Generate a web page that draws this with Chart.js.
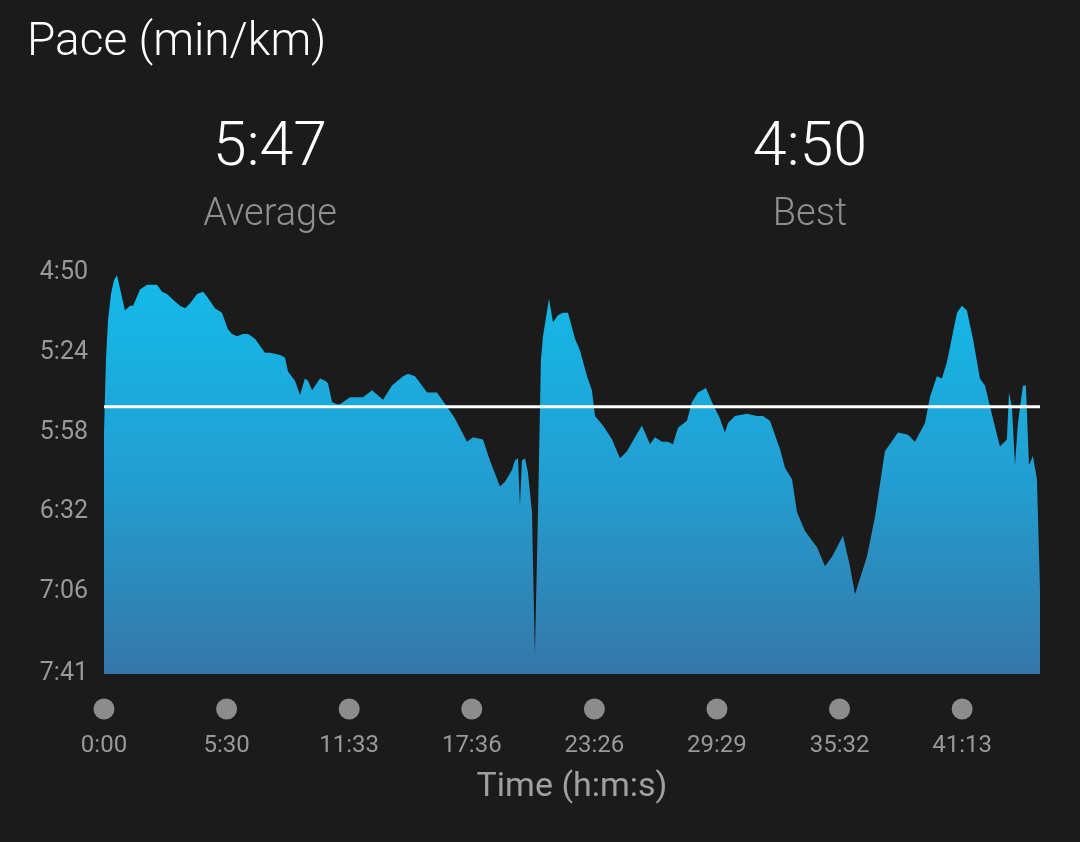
<!DOCTYPE html>
<html>
<head>
<meta charset="utf-8">
<title>Pace (min/km)</title>
<script src="https://cdn.jsdelivr.net/npm/chart.js@4.4.1/dist/chart.umd.min.js"></script>
<style>
  html, body { margin: 0; padding: 0; background: #1b1b1b; }
  body { width: 1080px; height: 842px; position: relative; overflow: hidden; font-family: Roboto, 'Noto Sans', sans-serif; }
  #title { position: absolute; left: 27px; top: 12px; font-size: 46px; color: #ffffff; font-weight: 300; }
  .stat { position: absolute; width: 300px; text-align: center; }
  .stat .val { font-size: 61px; color: #ffffff; font-weight: 300; line-height: 1; }
  .stat .lbl { font-size: 38px; color: #8f8f8f; font-weight: 300; margin-top: 18px; line-height: 1; }
  #chart-wrap { position: absolute; left: 0; top: 0; width: 1080px; height: 842px; }
</style>
</head>
<body>
<div id="chart-wrap"><canvas id="paceChart" width="1080" height="842"></canvas></div>
<div id="title">Pace (min/km)</div>
<div class="stat" style="left:120px; top:114px;"><div class="val" id="avg-val"></div><div class="lbl">Average</div></div>
<div class="stat" style="left:660px; top:114px;"><div class="val" id="best-val"></div><div class="lbl">Best</div></div>

<script>
// Pace chart, x = distance (km), y = pace in seconds per km (faster at the top)

const distKm = [
  0.00, 0.016, 0.033, 0.057, 0.082, 0.106, 0.171, 0.212, 0.237, 0.294,
  0.351, 0.432, 0.473, 0.514, 0.555, 0.620, 0.661, 0.701, 0.759, 0.808,
  0.840, 0.905, 0.962, 1.011, 1.044, 1.085, 1.134, 1.175, 1.232, 1.313,
  1.354, 1.436, 1.476, 1.501, 1.558, 1.599, 1.639, 1.664, 1.697, 1.762,
  1.803, 1.827, 1.860, 1.900, 1.925, 2.007, 2.113, 2.186, 2.276, 2.349,
  2.439, 2.480, 2.537, 2.635, 2.716, 2.798, 2.863, 2.961, 3.010, 3.091,
  3.148, 3.230, 3.271, 3.328, 3.352, 3.377, 3.393, 3.409, 3.434, 3.458,
  3.491, 3.515, 3.540, 3.564, 3.581, 3.630, 3.662, 3.703, 3.744, 3.785,
  3.842, 3.883, 3.940, 3.980, 4.005, 4.070, 4.144, 4.209, 4.266, 4.331,
  4.388, 4.454, 4.494, 4.551, 4.600, 4.641, 4.682, 4.755, 4.796, 4.845,
  4.910, 4.959, 5.024, 5.065, 5.090, 5.147, 5.245, 5.326, 5.375, 5.432,
  5.514, 5.555, 5.612, 5.653, 5.718, 5.816, 5.881, 5.938, 6.028, 6.085,
  6.126, 6.223, 6.289, 6.370, 6.476, 6.558, 6.615, 6.697, 6.737, 6.794,
  6.835, 6.876, 6.958, 6.998, 7.039, 7.088, 7.145, 7.186, 7.251, 7.308,
  7.365, 7.382, 7.406, 7.431, 7.455, 7.496, 7.520, 7.545, 7.577, 7.610,
  7.635
];
const paceSec = [
  358, 327, 310, 299, 293, 291, 306, 304, 304, 297,
  295, 295, 298, 299, 301, 304, 305, 303, 299, 298,
  300, 305, 307, 314, 316, 317, 316, 316, 318, 324,
  324, 325, 326, 332, 336, 342, 335, 336, 340, 335,
  336, 337, 345, 346, 346, 343, 343, 340, 344, 338,
  334, 333, 334, 341, 341, 347, 352, 362, 360, 361,
  370, 381, 379, 374, 370, 369, 389, 370, 369, 375,
  392, 453, 392, 327, 317, 301, 311, 308, 307, 307,
  318, 323, 334, 340, 351, 355, 361, 369, 366, 360,
  355, 363, 360, 362, 362, 363, 356, 353, 345, 341,
  339, 345, 352, 358, 354, 351, 350, 351, 351, 353,
  365, 373, 378, 392, 400, 407, 415, 411, 402, 415,
  427, 411, 394, 366, 358, 359, 362, 354, 343, 334,
  335, 328, 307, 304, 306, 318, 335, 338, 352, 364,
  361, 341, 347, 372, 354, 338, 338, 372, 368, 378,
  425
];

// km markers and elapsed time at each km
const kmMarks = [0, 1, 2, 3, 4, 5, 6, 7];
const timeLabels = ['0:00', '5:30', '11:33', '17:36', '23:26', '29:29', '35:32', '41:13'];

// y ticks (seconds) and their labels
const paceTicks = [290, 324, 358, 392, 426, 461];
const paceTickLabels = ['4:50', '5:24', '5:58', '6:32', '7:06', '7:41'];

const avgPace = 347;   // 5:47
const bestPace = 290;  // 4:50
const totalKm = 7.635;

function fmtPace(s) {
  const m = Math.floor(s / 60);
  const r = Math.round(s - m * 60);
  return m + ':' + (r < 10 ? '0' : '') + r;
}

document.getElementById('avg-val').textContent = fmtPace(avgPace);
document.getElementById('best-val').textContent = fmtPace(bestPace);

const points = distKm.map((d, i) => ({ x: d, y: paceSec[i] }));

// grey dots over each km marker
const markerDots = {
  id: 'markerDots',
  afterDraw(chart) {
    const { ctx, scales: { x } } = chart;
    ctx.save();
    ctx.fillStyle = '#8c8c8c';
    kmMarks.forEach(k => {
      ctx.beginPath();
      ctx.arc(x.getPixelForValue(k), 709, 10.5, 0, Math.PI * 2);
      ctx.fill();
    });
    ctx.restore();
  }
};

const ctx = document.getElementById('paceChart').getContext('2d');
new Chart(ctx, {
  type: 'line',
  data: {
    datasets: [
      {
        label: 'Average',
        data: [{ x: 0, y: avgPace }, { x: totalKm, y: avgPace }],
        borderColor: '#ffffff',
        borderWidth: 3,
        pointRadius: 0,
        fill: false
      },
      {
        label: 'Pace',
        data: points,
        borderWidth: 0,
        borderColor: 'rgba(0,0,0,0)',
        pointRadius: 0,
        tension: 0,
        fill: { value: paceTicks[paceTicks.length - 1] },
        backgroundColor: function(context) {
          const area = context.chart.chartArea;
          if (!area) return '#1fa4d8';
          const g = context.chart.ctx.createLinearGradient(0, area.top, 0, area.bottom);
          g.addColorStop(0, '#13bbe9');
          g.addColorStop(0.5, '#229fd2');
          g.addColorStop(1, '#3577a9');
          return g;
        }
      }
    ]
  },
  options: {
    responsive: false,
    animation: false,
    events: [],
    layout: { padding: { top: 273, right: 40, left: 0, bottom: 0 } },
    plugins: { legend: { display: false }, tooltip: { enabled: false } },
    scales: {
      x: {
        type: 'linear',
        min: 0,
        max: totalKm,
        grid: { display: false, drawTicks: false },
        border: { display: false },
        afterFit(scale) { scale.height = 842 - 674; },
        afterBuildTicks(scale) { scale.ticks = kmMarks.map(v => ({ value: v })); },
        ticks: {
          autoSkip: false,
          maxRotation: 0,
          padding: 58,
          color: '#999999',
          font: { family: 'Roboto', size: 24 },
          callback: (v) => timeLabels[kmMarks.indexOf(v)]
        },
        title: {
          display: true,
          text: 'Time (h:m:s)',
          color: '#a0a0a0',
          font: { family: 'Roboto', size: 34 },
          padding: { top: 0, bottom: 34 }
        }
      },
      y: {
        type: 'linear',
        reverse: true,
        min: paceTicks[0],
        max: paceTicks[paceTicks.length - 1],
        grid: { display: false, drawTicks: false },
        border: { display: false },
        afterFit(scale) { scale.width = 104; },
        afterBuildTicks(scale) { scale.ticks = paceTicks.map(v => ({ value: v })); },
        ticks: {
          autoSkip: false,
          padding: 16,
          color: '#999999',
          font: { family: 'Roboto', size: 25 },
          callback: (v) => paceTickLabels[paceTicks.indexOf(v)]
        }
      }
    }
  },
  plugins: [markerDots]
});
</script>
</body>
</html>
